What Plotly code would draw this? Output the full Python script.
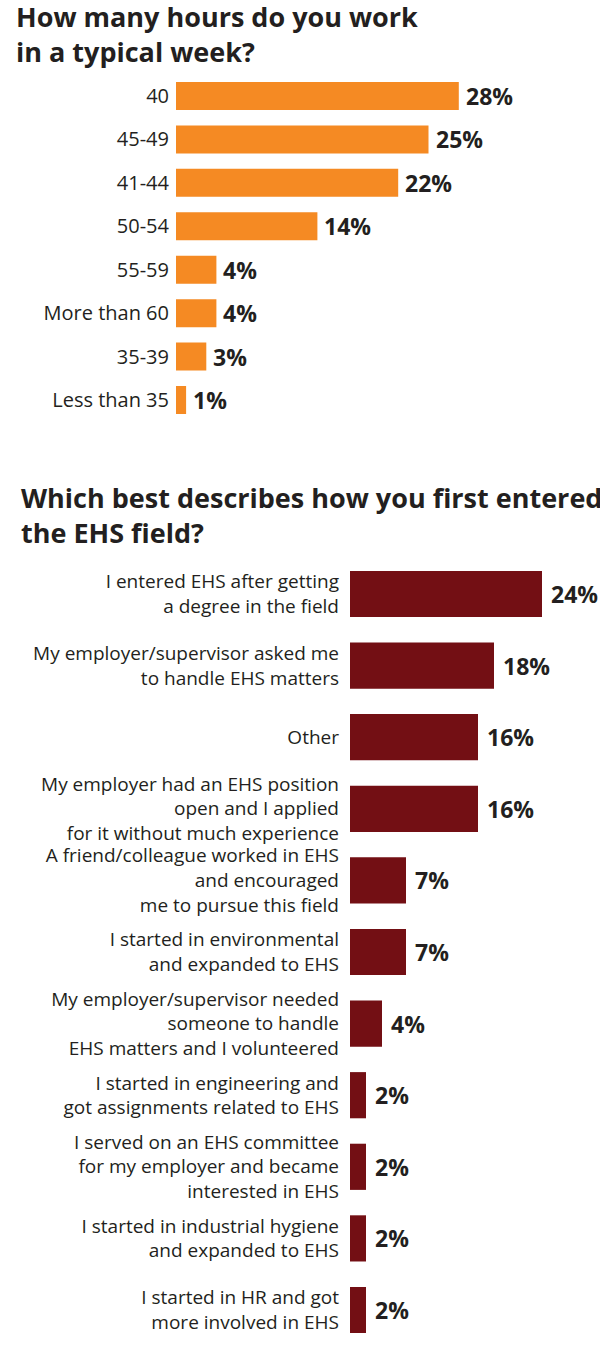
import plotly.graph_objects as go

W, H = 600, 1361

hours_cats = ["40", "45-49", "41-44", "50-54", "55-59", "More than 60", "35-39", "Less than 35"]
hours_vals = [28, 25, 22, 14, 4, 4, 3, 1]

entry_cats = [
    "I entered EHS after getting<br>a degree in the field",
    "My employer/supervisor asked me<br>to handle EHS matters",
    "Other",
    "My employer had an EHS position<br>open and I applied<br>for it without much experience",
    "A friend/colleague worked in EHS<br>and encouraged<br>me to pursue this field",
    "I started in environmental<br>and expanded to EHS",
    "My employer/supervisor needed<br>someone to handle<br>EHS matters and I volunteered",
    "I started in engineering and<br>got assignments related to EHS",
    "I served on an EHS committee<br>for my employer and became<br>interested in EHS",
    "I started in industrial hygiene<br>and expanded to EHS",
    "I started in HR and got<br>more involved in EHS",
]
entry_vals = [24, 18, 16, 16, 7, 7, 4, 2, 2, 2, 2]

title1 = "How many hours do you work<br>in a typical week?"
title2 = "Which best describes how you first entered<br>the EHS field?"

ORANGE = "#F58A23"
DARKRED = "#730F14"
TXT = "#231F20"
FONT = "Open Sans"

fig = go.Figure()
fig.add_trace(go.Bar(x=hours_vals, y=list(range(len(hours_cats))), orientation="h", marker_color=ORANGE,
                     marker_line_width=0, xaxis="x", yaxis="y", hoverinfo="skip"))
fig.add_trace(go.Bar(x=entry_vals, y=list(range(len(entry_cats))), orientation="h", marker_color=DARKRED,
                     marker_line_width=0, xaxis="x2", yaxis="y2", hoverinfo="skip"))

def py(px):
    return 1 - px / H

t_top, t_bot = 74.3, 421.7
b_top, b_bot = 558.2, 1345.8

fig.update_layout(
    width=W, height=H,
    margin=dict(l=0, r=0, t=0, b=0),
    paper_bgcolor="white", plot_bgcolor="white",
    showlegend=False, bargap=0.355,
    font=dict(family=FONT, color=TXT),
    xaxis=dict(domain=[176 / W, 1], range=[0, 424 / 10.1], visible=False, fixedrange=True),
    yaxis=dict(domain=[py(t_bot), py(t_top)], range=[len(hours_cats) - 0.5, -0.5],
               tickmode="array", tickvals=list(range(len(hours_cats))), ticktext=hours_cats,
               showgrid=False, zeroline=False, showline=False, ticks="", ticklabelstandoff=6,
               tickfont=dict(family=FONT, size=20, color=TXT)),
    xaxis2=dict(domain=[350 / W, 1], range=[0, 250 / 8.0], visible=False, anchor="y2", fixedrange=True),
    yaxis2=dict(domain=[py(b_bot), py(b_top)], range=[len(entry_cats) - 0.5, -0.5],
                tickmode="array", tickvals=list(range(len(entry_cats))), ticktext=entry_cats,
                showgrid=False, zeroline=False, showline=False, ticks="", ticklabelstandoff=10,
                anchor="x2", tickfont=dict(family=FONT, size=19, color=TXT)),
)

annotations = []
for i, v in enumerate(hours_vals):
    annotations.append(dict(x=v, y=i, xref="x", yref="y", text=f"<b>{v}%</b>", showarrow=False,
                            xanchor="left", xshift=5, font=dict(family=FONT, size=23, color=TXT)))
for i, v in enumerate(entry_vals):
    annotations.append(dict(x=v, y=i, xref="x2", yref="y2", text=f"<b>{v}%</b>", showarrow=False,
                            xanchor="left", xshift=7, font=dict(family=FONT, size=23, color=TXT)))
annotations.append(dict(x=14 / W, y=py(-4), xref="paper", yref="paper", text=f"<b>{title1}</b>",
                        showarrow=False, xanchor="left", yanchor="top", align="left",
                        font=dict(family=FONT, size=27, color=TXT)))
annotations.append(dict(x=19 / W, y=py(477), xref="paper", yref="paper", text=f"<b>{title2}</b>",
                        showarrow=False, xanchor="left", yanchor="top", align="left",
                        font=dict(family=FONT, size=27, color=TXT)))
fig.update_layout(annotations=annotations)

fig.write_html("out.html", config={"displayModeBar": False})
